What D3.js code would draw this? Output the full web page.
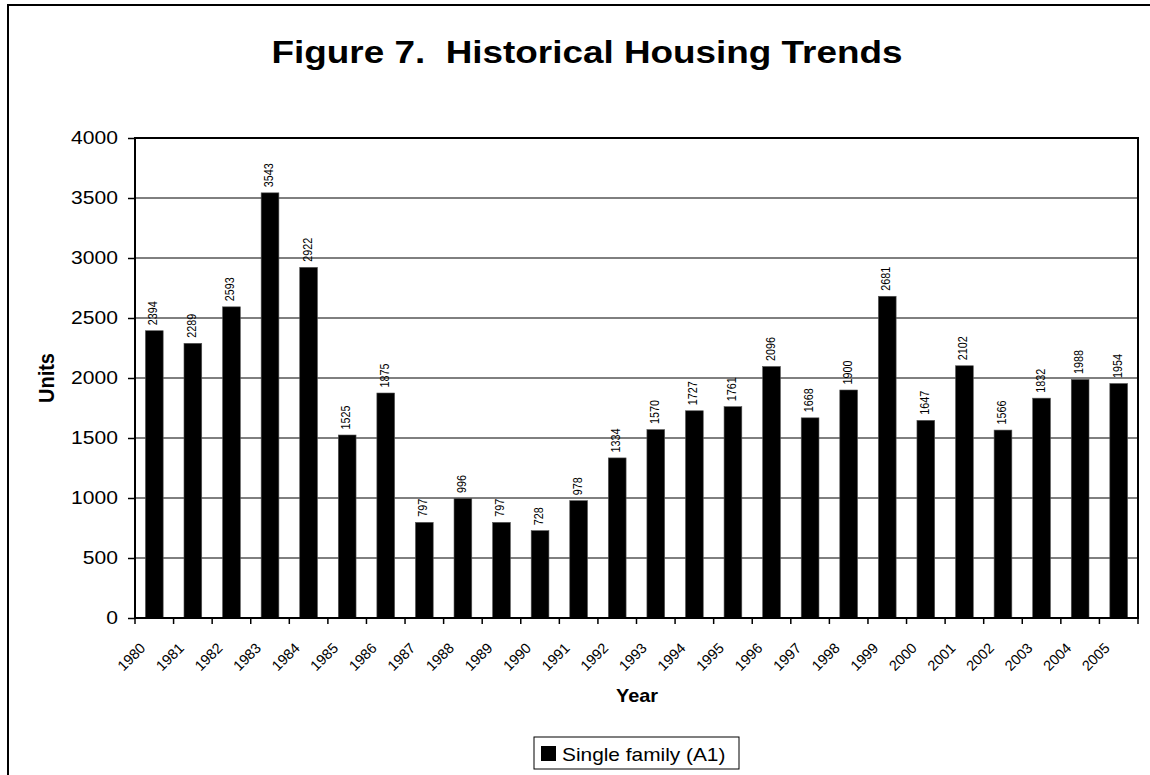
<!DOCTYPE html>
<html>
<head>
<meta charset="utf-8">
<script src="https://cdn.jsdelivr.net/npm/d3@7"></script>
<style>
  body { margin: 0; background: #fff; }
  svg { display: block; font-family: "Liberation Sans", Arial, sans-serif; }
</style>
</head>
<body>
<div id="chart"></div>
<script>
const years = ['1980', '1981', '1982', '1983', '1984', '1985', '1986', '1987', '1988', '1989', '1990', '1991', '1992',
  '1993', '1994', '1995', '1996', '1997', '1998', '1999', '2000', '2001', '2002', '2003', '2004', '2005']
const singleFamily = [2394, 2289, 2593, 3543, 2922, 1525, 1875, 797, 996, 797, 728, 978, 1334,
  1570, 1727, 1761, 2096, 1668, 1900, 2681, 1647, 2102, 1566, 1832, 1988, 1954]
const yTicks = [0, 500, 1000, 1500, 2000, 2500, 3000, 3500, 4000]

const W = 1150
const H = 775
const margin = { top: 138, right: 12, bottom: 157, left: 135 }
const width = W - margin.left - margin.right
const height = H - margin.top - margin.bottom
// the original text is a little wider than it is tall
const SX = 1.14

const svg = d3.select('#chart')
  .append('svg')
  .attr('width', W)
  .attr('height', H)

// outer chart frame, runs off the page on the right and bottom
svg.append('rect')
  .attr('x', 8)
  .attr('y', 5)
  .attr('width', W + 20)
  .attr('height', H + 20)
  .attr('fill', 'none')
  .attr('stroke', '#000')
  .attr('stroke-width', 2)

svg.append('text')
  .attr('transform', `translate(587,63) scale(1.16,1)`)
  .attr('text-anchor', 'middle')
  .attr('font-size', 31.8)
  .attr('font-weight', 'bold')
  .style('white-space', 'pre')
  .text('Figure 7.  Historical Housing Trends')

const g = svg.append('g')
  .attr('transform', `translate(${margin.left},${margin.top})`)

const x = d3.scaleBand()
  .domain(years)
  .range([0, width])
  .paddingInner(0.54)
  .paddingOuter(0.27)

const y = d3.scaleLinear()
  .domain([0, 4000])
  .range([height, 0])

// gridlines
g.append('g')
  .selectAll('line')
  .data(yTicks)
  .join('line')
  .attr('x1', 0)
  .attr('x2', width)
  .attr('y1', d => y(d))
  .attr('y2', d => y(d))
  .attr('stroke', '#000')
  .attr('stroke-width', 1)

// y axis
const yAxis = g.append('g')
  .call(d3.axisLeft(y).tickValues(yTicks).tickSize(7).tickFormat(d3.format('d')))
yAxis.select('.domain').remove()
yAxis.selectAll('.tick line').attr('stroke', '#000').attr('stroke-width', 1.5)
yAxis.selectAll('text')
  .attr('x', -17 / SX)
  .attr('transform', `scale(${SX},1)`)
  .attr('font-size', 18.5)
  .attr('font-family', '"Liberation Sans", Arial, sans-serif')
  .attr('fill', '#000')

// x axis ticks at category boundaries
const boundaries = d3.range(years.length + 1).map(i => i * width / years.length)
g.append('g')
  .selectAll('line')
  .data(boundaries)
  .join('line')
  .attr('x1', d => d)
  .attr('x2', d => d)
  .attr('y1', height)
  .attr('y2', height + 6)
  .attr('stroke', '#000')
  .attr('stroke-width', 1.5)

g.append('g')
  .selectAll('text')
  .data(years)
  .join('text')
  .attr('transform', d => `translate(${x(d) + x.bandwidth() / 2 - 8},${height + 31}) rotate(-45)`)
  .attr('text-anchor', 'end')
  .attr('font-size', 14.5)
  .text(d => d)

// bars
g.append('g')
  .selectAll('rect')
  .data(singleFamily)
  .join('rect')
  .attr('x', (d, i) => x(years[i]))
  .attr('y', d => y(d))
  .attr('width', x.bandwidth())
  .attr('height', d => height - y(d))
  .attr('fill', '#000')
  .attr('stroke', '#555')
  .attr('stroke-width', 0.6)

// value labels
g.append('g')
  .selectAll('text')
  .data(singleFamily)
  .join('text')
  .attr('transform', (d, i) => `translate(${x(years[i]) + x.bandwidth() / 2 + 3},${y(d) - 5.5}) scale(${SX},1) rotate(-90)`)
  .attr('text-anchor', 'start')
  .attr('font-size', 10.8)
  .text(d => d)

// plot border
g.append('rect')
  .attr('width', width)
  .attr('height', height)
  .attr('fill', 'none')
  .attr('stroke', '#000')
  .attr('stroke-width', 2)

svg.append('text')
  .attr('transform', `translate(637,702) scale(${SX},1)`)
  .attr('text-anchor', 'middle')
  .attr('font-size', 17.5)
  .attr('font-weight', 'bold')
  .text('Year')

svg.append('text')
  .attr('transform', `translate(54,${margin.top + height / 2}) scale(${SX},1) rotate(-90)`)
  .attr('text-anchor', 'middle')
  .attr('font-size', 20)
  .attr('font-weight', 'bold')
  .text('Units')

// legend
const legend = svg.append('g').attr('transform', 'translate(534,737)')
legend.append('rect')
  .attr('width', 205)
  .attr('height', 32)
  .attr('fill', '#fff')
  .attr('stroke', '#000')
  .attr('stroke-width', 1)
legend.append('rect')
  .attr('x', 7)
  .attr('y', 9)
  .attr('width', 15)
  .attr('height', 15)
  .attr('fill', '#000')
legend.append('text')
  .attr('transform', `translate(28,24) scale(${SX},1)`)
  .attr('font-size', 18.3)
  .text('Single family (A1)')
</script>
</body>
</html>
